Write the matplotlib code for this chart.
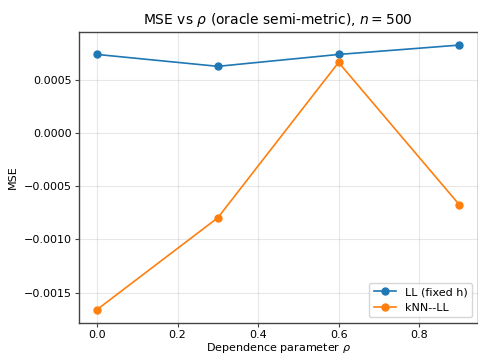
import matplotlib
matplotlib.use("Agg")
import matplotlib.pyplot as plt

rho = [0.0, 0.3, 0.6, 0.9]
mse_ll = [0.000741, 0.000629, 0.000741, 0.000829]
mse_knn = [-0.00166, -0.000796, 0.000666, -0.000674]

fig, ax = plt.subplots(figsize=(4.78, 3.54), dpi=100)
fig.subplots_adjust(left=0.165, right=0.999, top=0.910, bottom=0.088)

ax.plot(rho, mse_ll, '-o', color='#1f77b4', markersize=5, linewidth=1.2, label='LL (fixed h)')
ax.plot(rho, mse_knn, '-o', color='#ff7f0e', markersize=5, linewidth=1.2, label='kNN--LL')

ax.set_title(r'MSE vs $\rho$ (oracle semi-metric), $n = 500$', fontsize=10)
ax.set_xlabel(r'Dependence parameter $\rho$', fontsize=8, labelpad=1)
ax.set_ylabel('MSE', fontsize=8)
ax.tick_params(labelsize=8, color='#444444', length=3, pad=2)
ax.grid(True, alpha=0.3)
for s in ax.spines.values():
    s.set_color('#444444')
    s.set_linewidth(1.0)
ax.legend(loc='lower right', fontsize=8)

plt.savefig('out.png', dpi=100)
